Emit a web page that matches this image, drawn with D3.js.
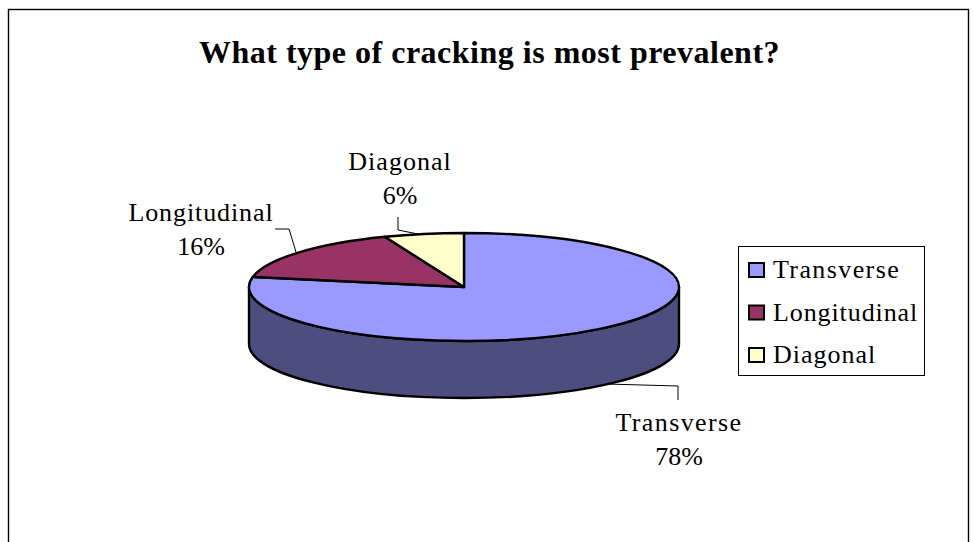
<!DOCTYPE html>
<html><head><meta charset="utf-8">
<script src="https://cdn.jsdelivr.net/npm/d3@7"></script>
<style>html,body{margin:0;background:#fff}svg{display:block}
text{font-family:"Liberation Serif",serif;fill:#000}</style></head>
<body><svg id="c" width="973" height="542"></svg>
<script>
const categories=["Transverse","Longitudinal","Diagonal"];
const values=[78,16,6];
const colors=["#9999ff","#993366","#ffffcc"];
const sideColor="#4d4d80";
const title="What type of cracking is most prevalent?";

const svg=d3.select("#c");
svg.append("rect").attr("x",8.5).attr("y",9.5).attr("width",960).attr("height",540).attr("fill","#fff").attr("stroke","#000").attr("stroke-width",1.4);
svg.append("text").attr("x",489.5).attr("y",63).attr("text-anchor","middle").attr("font-weight","bold").attr("font-size",32).attr("letter-spacing",0.5).text(title);

const cx=464,cy=287,rx=215,ry=54,depth=57,k=ry/rx;
const pie=d3.pie().sort(null).value(d=>d)(values);
const arc=d3.arc().innerRadius(0).outerRadius(rx);
const g=svg.append("g").attr("transform",`translate(${cx},${cy}) scale(1,${k})`);
const scaleD=d3.scaleLinear().domain([0,1]).range([0,depth/k]);
const p=d3.path();
p.moveTo(rx,0);p.arc(0,0,rx,0,Math.PI,false);
p.lineTo(-rx,scaleD(1));p.arc(0,scaleD(1),rx,Math.PI,0,true);p.closePath();
g.append("path").attr("d",p.toString()).attr("fill",sideColor).attr("stroke","#000").attr("stroke-width",2.4).attr("vector-effect","non-scaling-stroke");
g.selectAll("path.s").data(pie).join("path").attr("class","s").attr("d",arc)
 .attr("fill",(d,i)=>colors[i]).attr("stroke","#000").attr("stroke-width",2.4).attr("stroke-linejoin","round").attr("vector-effect","non-scaling-stroke");

const leaders=[[[606,384],[678,386],[678,400]],[[275,229],[289,229],[296,252]],[[398,217],[398,230],[418,234]]];
const line=d3.line();
svg.selectAll("path.l").data(leaders).join("path").attr("class","l").attr("d",line).attr("fill","none").attr("stroke","#000").attr("stroke-width",1);

const spacing=[1.4,0.9,1];
const labelPos=[[679,431],[201,221],[400,170]];
categories.forEach((c,i)=>{
  const t=svg.append("text").attr("text-anchor","middle").attr("font-size",26);
  t.append("tspan").attr("x",labelPos[i][0]).attr("y",labelPos[i][1]).attr("letter-spacing",spacing[i]).text(c);
  t.append("tspan").attr("x",labelPos[i][0]).attr("y",labelPos[i][1]+34).text(values[i]+"%");
});

svg.append("rect").attr("x",738.5).attr("y",246.5).attr("width",186).attr("height",129).attr("fill","#fff").attr("stroke","#000");
const ly=d3.scalePoint().domain(categories).range([270,355]);
categories.forEach((c,i)=>{
  svg.append("rect").attr("x",749).attr("y",ly(c)-7).attr("width",15).attr("height",14).attr("fill",colors[i]).attr("stroke","#000").attr("stroke-width",2);
  svg.append("text").attr("x",773).attr("y",ly(c)+8).attr("font-size",26).attr("letter-spacing",spacing[i]).text(c);
});
</script></body></html>
